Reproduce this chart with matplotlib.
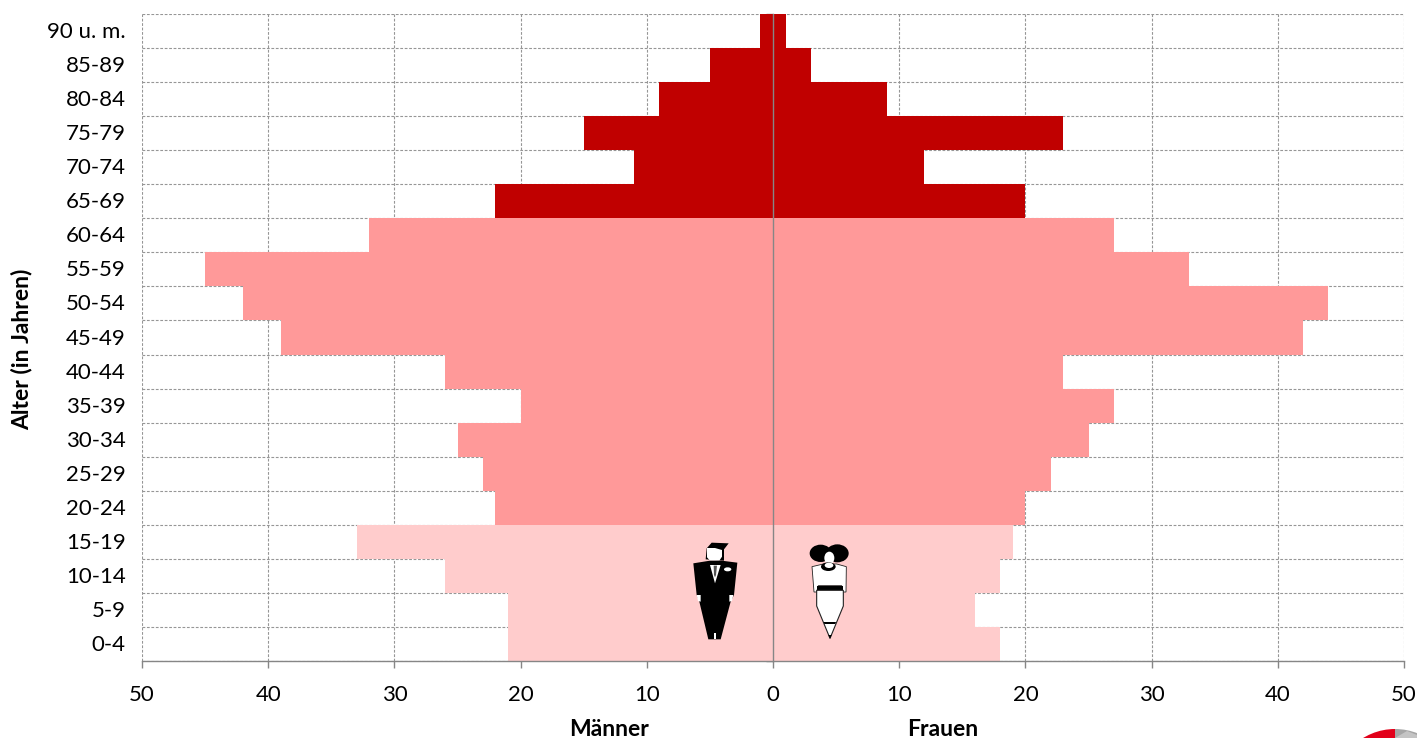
import matplotlib

matplotlib.use("Agg")
import matplotlib.pyplot as plt
from matplotlib.patches import Ellipse, Polygon, Wedge
from matplotlib.ticker import FixedFormatter, FixedLocator
from matplotlib.transforms import Affine2D

plt.rcParams["font.family"] = ["Lato", "DejaVu Sans"]

AGE_GROUPS = ["0-4", "5-9", "10-14", "15-19", "20-24", "25-29", "30-34", "35-39", "40-44", "45-49",
              "50-54", "55-59", "60-64", "65-69", "70-74", "75-79", "80-84", "85-89", "90 u. m."]
MEN = [21, 21, 26, 33, 22, 23, 25, 20, 26, 39, 42, 45, 32, 22, 11, 15, 9, 5, 1]
WOMEN = [18, 16, 18, 19, 20, 22, 25, 27, 23, 42, 44, 33, 27, 20, 12, 23, 9, 3, 1]
X_TICKS = [-50, -40, -30, -20, -10, 0, 10, 20, 30, 40, 50]

LIGHT, MID, DARK = "#FFCCCC", "#FF9999", "#C00000"
AXIS_GREY = "#868686"
W, H = 1417, 738


def band_colour(index):
    if index < 4:
        return LIGHT
    return MID if index < 13 else DARK


fig = plt.figure(figsize=(W / 100, H / 100), dpi=100)
ax = fig.add_axes([142 / W, (H - 661) / H, 1262 / W, 647 / H])

colours = [band_colour(i) for i in range(len(AGE_GROUPS))]
positions = [i + 0.5 for i in range(len(AGE_GROUPS))]
ax.barh(positions, [-v for v in MEN], height=1.0, color=colours, linewidth=0, zorder=2)
ax.barh(positions, WOMEN, height=1.0, color=colours, linewidth=0, zorder=2)

ax.set_xlim(-50, 50)
ax.set_ylim(0, len(AGE_GROUPS))
ax.grid(True, color="#969696", linestyle=(0, (2.5, 1.5)), linewidth=0.8, zorder=1)
ax.set_axisbelow(True)

for side in ("top", "right"):
    ax.spines[side].set_visible(False)
ax.spines["left"].set_position(("data", 0))
ax.spines["left"].set_color(AXIS_GREY)
ax.spines["left"].set_linewidth(1.0)
ax.spines["left"].set_zorder(3)
ax.spines["bottom"].set_color(AXIS_GREY)
ax.spines["bottom"].set_linewidth(1.0)

ax.xaxis.set_major_locator(FixedLocator(X_TICKS))
ax.xaxis.set_major_formatter(FixedFormatter([str(abs(t)) for t in X_TICKS]))
ax.yaxis.set_major_locator(FixedLocator(list(range(len(AGE_GROUPS) + 1))))
ax.yaxis.set_major_formatter(FixedFormatter([""] * (len(AGE_GROUPS) + 1)))
ax.tick_params(axis="x", length=5, width=1, color=AXIS_GREY, labelsize=16, pad=12, labelcolor="black")
ax.tick_params(axis="y", length=5, width=1, color=AXIS_GREY, zorder=3)

label_tf = ax.get_yaxis_transform()
for pos, label in zip(positions, AGE_GROUPS):
    ax.text(-0.013, pos - 0.03, label, transform=label_tf, ha="right", va="center", fontsize=16, color="black")

fig.text(22 / W, 1 - 349 / H, "Alter (in Jahren)", rotation=90, ha="center", va="center",
         fontsize=16.5, fontweight="bold")
fig.text(609 / W, 1 - 730 / H, "Männer", ha="center", va="center", fontsize=16.5, fontweight="bold")
fig.text(943 / W, 1 - 730 / H, "Frauen", ha="center", va="center", fontsize=16.5, fontweight="bold")

# pictograms, outlined on a 3x crop of the picture
icon_tf = Affine2D().scale(1 / 3).translate(660, 520).scale(1, -1).translate(0, H) + \
    Affine2D().scale(1 / W, 1 / H) + fig.transFigure


def poly(points, colour, edge="none", lw=0.0):
    fig.add_artist(Polygon(points, closed=True, facecolor=colour, edgecolor=edge, linewidth=lw,
                           transform=icon_tf, zorder=5))


def oval(x, y, w, h, colour):
    fig.add_artist(Ellipse((x, y), w, h, facecolor=colour, edgecolor="none", transform=icon_tf, zorder=5))


# man
poly([(137, 118), (140, 85), (155, 68), (206, 70), (192, 88), (192, 122)], "black")
poly([(141, 84), (165, 84), (186, 90), (186, 110), (178, 122), (150, 122), (141, 112)], "white")
poly([(100, 130), (150, 122), (185, 122), (232, 128), (222, 225), (212, 245),
      (182, 358), (145, 358), (118, 245), (110, 225)], "black")
poly([(150, 135), (182, 135), (165, 190)], "white")
poly([(161, 137), (171, 137), (168, 165), (165, 172), (162, 165)], "#555555")
oval(203, 148, 22, 12, "white")
poly([(110, 225), (122, 225), (122, 245), (114, 243)], "white")
poly([(208, 225), (220, 225), (216, 243), (208, 245)], "white")
poly([(163, 338), (167, 338), (167, 358), (163, 358)], "white")

# woman
oval(482, 100, 66, 52, "black")
oval(532, 100, 68, 54, "black")
oval(508, 114, 30, 38, "white")
poly([(456, 140), (490, 132), (530, 132), (559, 140), (558, 216), (548, 216), (545, 197),
      (475, 197), (470, 216), (462, 216)], "white", "#222222", 0.6)
oval(505, 140, 44, 26, "black")
oval(507, 136, 26, 16, "white")
poly([(470, 197), (550, 197), (550, 211), (470, 211)], "black")
poly([(470, 211), (550, 211), (550, 258), (510, 355), (470, 258)], "white", "#222222", 0.8)
poly([(491, 306), (528, 306), (526, 312), (493, 312)], "black")
poly([(505, 345), (515, 345), (510, 357)], "black")

# logo cut off by the lower right corner
logo_tf = Affine2D().scale(1, -1).translate(0, H) + Affine2D().scale(1 / W, 1 / H) + fig.transFigure
fig.add_artist(Wedge((1395, 790), 61, 180, 270, facecolor="#E2001A", edgecolor="none",
                     transform=logo_tf, zorder=5, clip_on=False))
fig.add_artist(Wedge((1395, 790), 61, 270, 360, facecolor="#A6A6A6", edgecolor="none",
                     transform=logo_tf, zorder=5, clip_on=False))
fig.add_artist(Polygon([(1395, 738), (1407, 731), (1417, 735), (1417, 738)], closed=True,
                       facecolor="#C4C4C4", edgecolor="none", transform=logo_tf, zorder=6))

fig.savefig("out.png", dpi=100)
plt.close(fig)
